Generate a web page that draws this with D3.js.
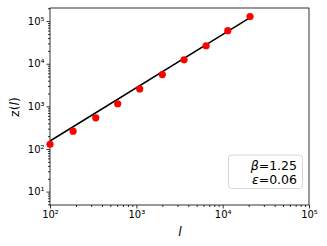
<!DOCTYPE html>
<html>
<head>
<meta charset="utf-8">
<script src="https://cdn.jsdelivr.net/npm/d3@7"></script>
<style>
body { margin: 0; background: #fff; }
text { font-family: "DejaVu Sans", sans-serif; fill: #000; }
</style>
</head>
<body>
<div id="chart-area"></div>
<script>
// data
let sizeL = [100, 185, 339, 608, 1094, 2000, 3575, 6430, 11460, 20750];
let zValues = [129, 261, 538, 1150, 2560, 5560, 12360, 26400, 59700, 127600];
let fitL = [100, 20750];
let fitZ = [154, 121000];
let xTicks = [1e2, 1e3, 1e4, 1e5];
let yTicks = [1e1, 1e2, 1e3, 1e4, 1e5];
let legendSym = ["β", "ε"];
let legendVal = ["=1.25", "=0.06"];

let width = 327, height = 246;
let margin = {top: 8, right: 18, bottom: 41, left: 50};

let svg = d3.select("#chart-area").append("svg")
	.attr("width", width)
	.attr("height", height);

let xScale = d3.scaleLog()
	.domain([1e2, 1e5])
	.range([margin.left, width - margin.right]);

let yScale = d3.scaleLog()
	.domain([4.85, 2.03e5])
	.range([height - margin.bottom, margin.top]);

let sup = {"1": "¹", "2": "²", "3": "³", "4": "⁴", "5": "⁵"};
let fmt = d => "10" + sup[Math.round(Math.log10(d))];

// minor ticks 2..9 per decade
let minorX = [], minorY = [];
for (let e = 2; e < 5; e++) for (let k = 2; k < 10; k++) minorX.push(k * Math.pow(10, e));
for (let e = 0; e < 6; e++) for (let k = 2; k < 10; k++) {
	let v = k * Math.pow(10, e);
	if (v > 4.85 && v < 2.03e5) minorY.push(v);
}

let xAxis = d3.axisBottom(xScale).tickValues(xTicks).tickFormat(fmt).tickSize(3.5).tickPadding(2);
let xMinor = d3.axisBottom(xScale).tickValues(minorX).tickFormat("").tickSize(2);
let yAxis = d3.axisLeft(yScale).tickValues(yTicks).tickFormat(fmt).tickSize(3.5).tickPadding(2);
let yMinor = d3.axisLeft(yScale).tickValues(minorY).tickFormat("").tickSize(2);

let gx = svg.append("g").attr("transform", "translate(0," + (height - margin.bottom) + ")");
gx.call(xAxis);
gx.append("g").call(xMinor);
let gy = svg.append("g").attr("transform", "translate(" + margin.left + ",0)");
gy.call(yAxis);
gy.append("g").call(yMinor);
svg.selectAll(".domain").remove();
svg.selectAll(".tick line").attr("stroke", "#000").attr("stroke-width", 0.8);
svg.selectAll(".tick text").style("font-size", "10px").style("font-family", "DejaVu Sans");

// frame
svg.append("rect")
	.attr("x", margin.left)
	.attr("y", margin.top)
	.attr("width", width - margin.left - margin.right)
	.attr("height", height - margin.top - margin.bottom)
	.attr("fill", "none")
	.attr("stroke", "#000")
	.attr("stroke-width", 0.8);

// fit line
let line = d3.line().x((d, i) => xScale(fitL[i])).y(d => yScale(d));
svg.append("path")
	.datum(fitZ)
	.attr("d", line)
	.attr("fill", "none")
	.attr("stroke", "#000")
	.attr("stroke-width", 1.5);

svg.selectAll("circle.pt")
	.data(zValues)
	.enter()
	.append("circle")
	.attr("class", "pt")
	.attr("cx", (d, i) => xScale(sizeL[i]))
	.attr("cy", d => yScale(d))
	.attr("r", 3.6)
	.attr("fill", "#ff0000");

// legend box
let lg = svg.append("g");
lg.append("rect")
	.attr("x", 228.5)
	.attr("y", 155)
	.attr("width", 74)
	.attr("height", 33.5)
	.attr("rx", 3)
	.attr("fill", "#fff")
	.attr("stroke", "#ccc")
	.attr("stroke-width", 0.8);
let lt = lg.selectAll("text")
	.data(legendSym)
	.enter()
	.append("text")
	.attr("x", 297)
	.attr("y", (d, i) => 170 + i * 13.5)
	.attr("text-anchor", "end")
	.style("font-size", "12.5px");
lt.append("tspan").style("font-style", "italic").text(d => d);
lt.append("tspan").text((d, i) => legendVal[i]);

// axis labels
svg.append("text")
	.attr("x", 180)
	.attr("y", 236)
	.attr("text-anchor", "middle")
	.style("font-size", "12.5px")
	.style("font-style", "italic")
	.text("l");

svg.append("text")
	.attr("transform", "translate(19,107) rotate(-90)")
	.attr("text-anchor", "middle")
	.style("font-size", "12.5px")
	.html('z(<tspan font-style="italic">l</tspan>)');
</script>
</body>
</html>
